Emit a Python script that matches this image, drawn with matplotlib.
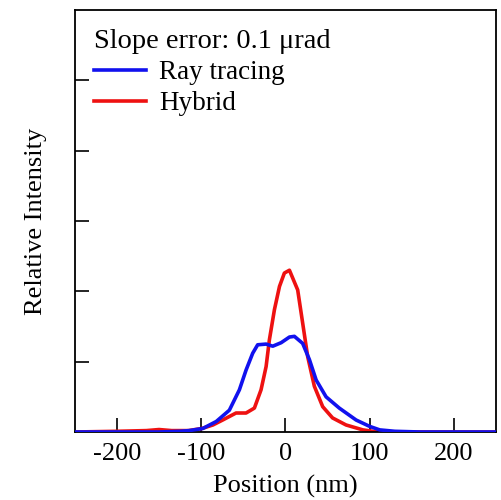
import matplotlib.pyplot as plt
import numpy as np

# values (position in nm, intensity in tick units)
ray_x = [-250, -200, -150, -125, -114, -98, -82, -66.5, -54.6, -46.7, -38.8, -32.9,
         -22.9, -15, -5, 4.8, 10.7, 20.5, 28.5, 36.5, 48.3, 64, 84, 100, 112,
         130, 160, 200, 250]
ray_y = [0.0, 0.0, 0.0, 0.01, 0.02, 0.05, 0.15, 0.31, 0.60, 0.88, 1.12, 1.24,
         1.25, 1.22, 1.27, 1.35, 1.36, 1.26, 1.03, 0.74, 0.50, 0.34, 0.17, 0.08, 0.03,
         0.01, 0.0, 0.0, 0.0]

hyb_x = [-250, -200, -165, -150, -135, -115, -99, -86, -74.5, -58.6, -46.7, -36.8,
         -28.9, -22.9, -19, -13, -7, -1.2, 4.8, 14.6, 20.5, 26.5, 34.4, 44.3, 56,
         72, 92, 110, 150, 200, 250]
hyb_y = [0.0, 0.01, 0.02, 0.035, 0.02, 0.02, 0.05, 0.10, 0.17, 0.27, 0.27, 0.34,
         0.60, 0.93, 1.31, 1.74, 2.07, 2.26, 2.30, 2.02, 1.55, 1.07, 0.65, 0.36, 0.20,
         0.10, 0.03, 0.0, 0.0, 0.0, 0.0]

x_ticks = [-200, -100, 0, 100, 200]
y_ticks = [1, 2, 3, 4, 5]

plt.rcParams['font.family'] = ['Liberation Serif', 'DejaVu Serif']
plt.rcParams['axes.unicode_minus'] = False

fig = plt.figure(figsize=(5.02, 5.00), dpi=100)
ax = fig.add_axes([0.149, 0.136, 0.839, 0.844])

ax.plot(hyb_x, hyb_y, color='#ee1111', lw=2.6, label='Hybrid', zorder=2,
        solid_joinstyle='round')
ax.plot(ray_x, ray_y, color='#1111ee', lw=2.6, label='Ray tracing', zorder=3,
        solid_joinstyle='round')

ax.set_xlim(-250, 250)
ax.set_ylim(0, 6)
ax.set_xticks(x_ticks)
ax.set_yticks(y_ticks)
ax.set_yticklabels([])
ax.tick_params(direction='in', length=10, width=1.2, labelsize=19,
               top=False, right=False, pad=8)
for s in ax.spines.values():
    s.set_linewidth(1.3)

ax.set_xlabel('Position (nm)', fontsize=19, labelpad=7)
ax.set_ylabel('Relative Intensity', fontsize=19, labelpad=12)

h, l = ax.get_legend_handles_labels()
leg = ax.legend(h[::-1], l[::-1], title='Slope error: 0.1 \u03bcrad',
                loc='upper left', frameon=False, fontsize=19.5,
                title_fontsize=20.5, alignment='left', handlelength=1.9,
                borderaxespad=0.42, labelspacing=0.22, handletextpad=0.5,
                borderpad=0.3)

fig.savefig('out.png', dpi=100)
